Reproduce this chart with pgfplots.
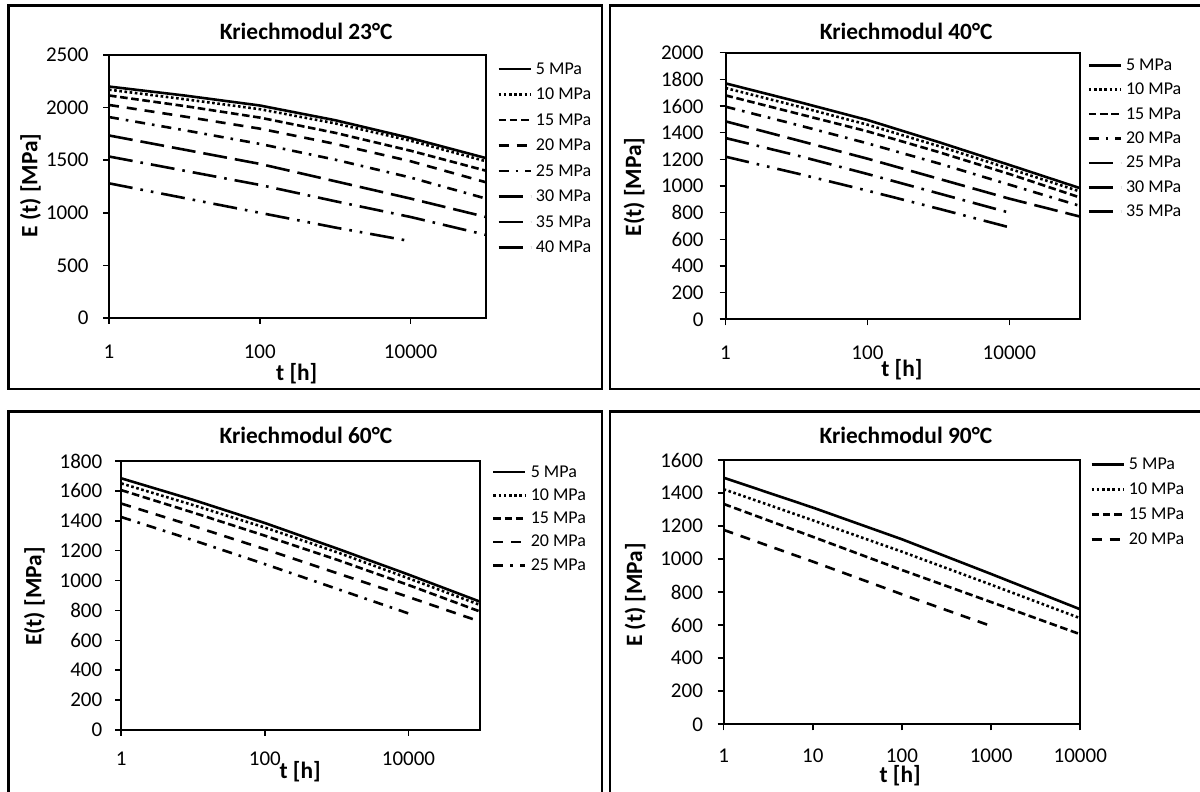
\documentclass[border=0pt]{standalone}
\usepackage{fontspec}
\setmainfont{Carlito}
\usepackage{pgfplots}
\pgfplotsset{compat=1.18}
\newcommand{\tickfont}{\fontsize{10.5pt}{12pt}\selectfont}
\newcommand{\legfont}{\fontsize{9pt}{10pt}\selectfont}
\newcommand{\labfont}{\bfseries\fontsize{11.7pt}{13pt}\selectfont}
\tikzset{
 s5/.style={solid},
 s10/.style={dash pattern=on 1.3pt off 1.3pt},
 s15/.style={dash pattern=on 3.8pt off 1.8pt},
 s20/.style={dash pattern=on 5pt off 4pt},
 sdd/.style={dash pattern=on 5pt off 3.5pt on 1.3pt off 3.5pt},
 sld/.style={dash pattern=on 12pt off 4pt},
 sldd/.style={dash pattern=on 12pt off 4pt on 1.3pt off 4pt},
 slddd/.style={dash pattern=on 12pt off 4pt on 1.3pt off 4pt on 1.3pt off 4pt},
}
\pgfplotsset{
 kstyle/.style={
  scale only axis, anchor=south west,
  axis line style={line width=1pt},
  tick align=outside, major tick length=3pt,
  tick style={line width=0.8pt, black},
  xtick pos=bottom, ytick pos=left, xminorticks=false, yminorticks=false,
  tick label style={font=\tickfont},
  /pgf/number format/assume math mode=true,
  /pgf/number format/1000 sep={},
  xticklabel style={anchor=center},
  yticklabel style={anchor=east, inner sep=0pt},
  legend cell align=left,
  legend style={draw=none, fill=none, inner sep=0pt, anchor=north west,
    font=\legfont,
    nodes={inner ysep=0pt, inner xsep=2pt, text height=6.5pt, text depth=1.5pt}},
  legend image code/.code={\draw[##1, line width=1.3pt] (0pt,0pt) -- (16pt,0pt);},
  every axis plot/.append style={line width=1.3pt, black, no markers},
  every axis title shift=0pt,
  title style={font=\labfont, anchor=center},
  label style={font=\labfont},
  xlabel style={anchor=center},
  ylabel style={anchor=center},
 }
}
\begin{document}
\begin{tikzpicture}
% ---------------- 23 C
\begin{semilogxaxis}[kstyle, at={(54.5pt,237pt)}, width=188.5pt, height=131.5pt,
 xmin=1, xmax=100000, ymin=0, ymax=2500, ytick={0,500,...,2500},
 xtick={1,100,10000}, xticklabels={1,100,10000},
 title={Kriechmodul 23°C}, title style={at={(axis description cs:0.523,1)}, yshift=11.65pt},
 xlabel={t [h]}, xlabel style={at={(axis description cs:0.498,-0.211)}},
 ylabel={E (t) [MPa]}, ylabel style={at={(axis description cs:-0.208,0.504)}},
 xticklabel style={yshift=-13.7pt}, yticklabel style={xshift=-7pt},
 legend style={at={(1.029,0.978)}, row sep=4.75pt}]
\addplot[s5] coordinates {(1,2200)(10,2115)(100,2020)(1000,1880)(10000,1710)(100000,1520)};
\addplot[s10] coordinates {(1,2170)(10,2080)(100,1985)(1000,1850)(10000,1685)(100000,1490)};
\addplot[s15] coordinates {(1,2115)(10,2015)(100,1905)(1000,1760)(10000,1590)(100000,1400)};
\addplot[s20] coordinates {(1,2025)(10,1915)(100,1800)(1000,1655)(10000,1490)(100000,1290)};
\addplot[sdd] coordinates {(1,1910)(10,1785)(100,1655)(1000,1505)(10000,1335)(100000,1135)};
\addplot[sld] coordinates {(1,1735)(10,1600)(100,1465)(1000,1300)(10000,1135)(100000,960)};
\addplot[sldd] coordinates {(1,1535)(10,1400)(100,1265)(1000,1110)(10000,960)(100000,790)};
\addplot[slddd] coordinates {(1,1280)(10,1140)(100,1000)(1000,860)(10000,730)};
\legend{5 MPa,10 MPa,15 MPa,20 MPa,25 MPa,30 MPa,35 MPa,40 MPa}
\end{semilogxaxis}
% ---------------- 40 C
\begin{semilogxaxis}[kstyle, at={(362.75pt,236.35pt)}, width=177.4pt, height=133.3pt,
 xmin=1, xmax=100000, ymin=0, ymax=2000, ytick={0,200,...,2000},
 xtick={1,100,10000}, xticklabels={1,100,10000},
 title={Kriechmodul 40°C}, title style={at={(axis description cs:0.509,1)}, yshift=10.85pt},
 xlabel={t [h]}, xlabel style={at={(axis description cs:0.497,-0.19)}},
 ylabel={E(t) [MPa]}, ylabel style={at={(axis description cs:-0.257,0.496)}},
 xticklabel style={yshift=-13.65pt}, yticklabel style={xshift=-7.75pt},
 legend style={at={(1.019,0.984)}, row sep=4.2pt}]
\addplot[s5] coordinates {(1,1770)(10,1635)(100,1495)(1000,1330)(10000,1158)(100000,983)};
\addplot[s10] coordinates {(1,1735)(10,1600)(100,1460)(1000,1300)(10000,1130)(100000,958)};
\addplot[s15] coordinates {(1,1680)(10,1545)(100,1410)(1000,1255)(10000,1090)(100000,913)};
\addplot[sdd] coordinates {(1,1595)(10,1460)(100,1320)(1000,1170)(10000,1010)(100000,850)};
\addplot[sld] coordinates {(1,1485)(10,1345)(100,1205)(1000,1055)(10000,905)(100000,770)};
\addplot[sldd] coordinates {(1,1360)(10,1230)(100,1090)(1000,945)(10000,800)};
\addplot[slddd] coordinates {(1,1220)(10,1095)(100,965)(1000,830)(10000,690)};
\legend{5 MPa,10 MPa,15 MPa,20 MPa,25 MPa,30 MPa,35 MPa}
\end{semilogxaxis}
% ---------------- 60 C
\begin{semilogxaxis}[kstyle, at={(60.65pt,31pt)}, width=179.5pt, height=134.5pt,
 xmin=1, xmax=100000, ymin=0, ymax=1800, ytick={0,200,...,1800},
 xtick={1,100,10000}, xticklabels={1,100,10000},
 title={Kriechmodul 60°C}, title style={at={(axis description cs:0.514,1)}, yshift=12.65pt},
 xlabel={t [h]}, xlabel style={at={(axis description cs:0.498,-0.155)}},
 ylabel={E(t) [MPa]}, ylabel style={at={(axis description cs:-0.242,0.496)}},
 xticklabel style={yshift=-11.3pt}, yticklabel style={xshift=-6.35pt},
 legend style={at={(1.032,0.990)}, row sep=3.65pt}]
\addplot[s5] coordinates {(1,1684)(10,1540)(100,1385)(1000,1215)(10000,1040)(100000,858)};
\addplot[s10] coordinates {(1,1650)(10,1505)(100,1355)(1000,1190)(10000,1015)(100000,836)};
\addplot[s15] coordinates {(1,1605)(10,1455)(100,1300)(1000,1140)(10000,970)(100000,792)};
\addplot[s20] coordinates {(1,1515)(10,1365)(100,1210)(1000,1050)(10000,890)(100000,725)};
\addplot[sdd] coordinates {(1,1425)(10,1270)(100,1110)(1000,945)(10000,780)};
\legend{5 MPa,10 MPa,15 MPa,20 MPa,25 MPa}
\end{semilogxaxis}
% ---------------- 90 C
\begin{semilogxaxis}[kstyle, at={(361.8pt,33.85pt)}, width=178.35pt, height=132.15pt,
 xmin=1, xmax=10000, ymin=0, ymax=1600, ytick={0,200,...,1600},
 xtick={1,10,100,1000,10000}, xticklabels={1,10,100,1000,10000},
 title={Kriechmodul 90°C}, title style={at={(axis description cs:0.511,1)}, yshift=12.15pt},
 xlabel={t [h]}, xlabel style={at={(axis description cs:0.495,-0.195)}},
 ylabel={E (t) [MPa]}, ylabel style={at={(axis description cs:-0.248,0.489)}},
 xticklabel style={yshift=-12.65pt}, yticklabel style={xshift=-7.15pt},
 legend style={at={(1.027,1.015)}, row sep=4.5pt}]
\addplot[s5] coordinates {(1,1493)(10,1312)(100,1120)(1000,910)(10000,696)};
\addplot[s10] coordinates {(1,1423)(10,1235)(100,1045)(1000,845)(10000,642)};
\addplot[s15] coordinates {(1,1334)(10,1135)(100,934)(1000,740)(10000,545)};
\addplot[s20] coordinates {(1,1177)(10,985)(100,787)(1000,595)};
\legend{5 MPa,10 MPa,15 MPa,20 MPa}
\end{semilogxaxis}
% frames
\draw[line width=1.4pt] (4.15pt,393.15pt) rectangle (301pt,201.5pt);
\draw[line width=1.4pt] (305pt,393.15pt) rectangle (602.5pt,201.5pt);
\draw[line width=1.4pt] (4.15pt,190.15pt) rectangle (301pt,-4pt);
\draw[line width=1.4pt] (305pt,190.15pt) rectangle (602.5pt,-4pt);
\pgfresetboundingbox
\path[use as bounding box] (0pt,0pt) rectangle (600pt,396pt);
\end{tikzpicture}
\end{document}
